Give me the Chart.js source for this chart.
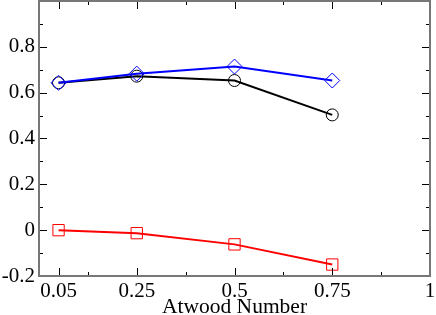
<!DOCTYPE html>
<html>
<head>
<meta charset="utf-8">
<script src="https://cdn.jsdelivr.net/npm/chart.js@4"></script>
<style>
html,body{margin:0;padding:0;background:#fff;}
canvas{display:block;}
</style>
</head>
<body>
<canvas id="c" width="436" height="315"></canvas>
<script>
const atwood = [0.05, 0.25, 0.5, 0.75];
const blueDiamonds = [0.643, 0.683, 0.714, 0.653];
const blackCircles = [0.643, 0.672, 0.653, 0.503];
const redSquares = [0.0, -0.013, -0.062, -0.150];
const xTickValues = [0.05, 0.25, 0.5, 0.75, 1];
const xTickLabels = ["0.05", "0.25", "0.5", "0.75", "1"];
const xMinorValues = [0.125, 0.375, 0.625, 0.875];
const yTickValues = [-0.2, 0, 0.2, 0.4, 0.6, 0.8];
const yTickLabels = ["-0.2", "0", "0.2", "0.4", "0.6", "0.8"];
const yMinorValues = [-0.1, 0.1, 0.3, 0.5, 0.7, 0.9];
const xTitle = "Atwood Number";

const pts = ys => atwood.map((x, i) => ({x: x, y: ys[i]}));
const FONT = "'Liberation Serif', 'Times New Roman', serif";

const framePlugin = {
  id: 'frame',
  afterDraw(chart) {
    const {ctx, chartArea: a, scales: {x, y}} = chart;
    ctx.save();
    ctx.strokeStyle = '#000';
    ctx.lineWidth = 1;
    const tick = (px, vertical, len) => {
      ctx.beginPath();
      if (vertical) {
        ctx.moveTo(px, a.bottom); ctx.lineTo(px, a.bottom - len);
        ctx.moveTo(px, a.top); ctx.lineTo(px, a.top + len);
      } else {
        ctx.moveTo(a.left, px); ctx.lineTo(a.left + len, px);
        ctx.moveTo(a.right, px); ctx.lineTo(a.right - len, px);
      }
      ctx.stroke();
    };
    xTickValues.forEach(v => tick(Math.round(x.getPixelForValue(v)) + 0.5, true, 8));
    xMinorValues.forEach(v => tick(Math.round(x.getPixelForValue(v)) + 0.5, true, 4));
    yTickValues.forEach(v => tick(Math.round(y.getPixelForValue(v)) + 0.5, false, 8));
    yMinorValues.forEach(v => tick(Math.round(y.getPixelForValue(v)) + 0.5, false, 4));
    ctx.strokeStyle = '#777';
    ctx.lineWidth = 2;
    ctx.strokeRect(a.left, a.top, a.right - a.left, a.bottom - a.top);
    ctx.restore();
  }
};

new Chart(document.getElementById('c'), {
  type: 'line',
  data: {
    datasets: [
      {data: pts(redSquares), borderColor: '#ff0000', borderWidth: 2, pointStyle: 'rect', pointRadius: 8, pointBorderWidth: 1, pointBorderColor: '#ff0000', pointBackgroundColor: 'rgba(0,0,0,0)', tension: 0, order: 3},
      {data: pts(blackCircles), borderColor: '#000000', borderWidth: 2, pointStyle: 'circle', pointRadius: 6, pointBorderWidth: 1, pointBorderColor: '#000000', pointBackgroundColor: 'rgba(0,0,0,0)', tension: 0, order: 2},
      {data: pts(blueDiamonds), borderColor: '#0000ff', borderWidth: 2, pointStyle: 'rectRot', pointRadius: 7.5, pointBorderWidth: 1, pointBorderColor: '#0000ff', pointBackgroundColor: 'rgba(0,0,0,0)', tension: 0, order: 1}
    ]
  },
  options: {
    responsive: false,
    animation: false,
    events: [],
    layout: {autoPadding: false, padding: {top: 1, right: 6, left: 0, bottom: 0}},
    plugins: {legend: {display: false}, tooltip: {enabled: false}},
    scales: {
      x: {
        type: 'linear', min: 0, max: 1,
        afterBuildTicks: s => { s.ticks = xTickValues.map(v => ({value: v})); },
        afterFit: s => { s.height = 39; s.paddingLeft = 0; s.paddingRight = 0; },
        grid: {display: false, drawTicks: false},
        border: {display: false},
        ticks: {
          autoSkip: false, maxRotation: 0, padding: 3,
          color: '#000', font: {family: FONT, size: 21},
          callback: (v, i) => xTickLabels[i]
        },
        title: {display: true, text: xTitle, color: '#000', font: {family: FONT, size: 21.5}, padding: {top: 0, bottom: -5}}
      },
      y: {
        type: 'linear', min: -0.2, max: 1,
        afterBuildTicks: s => { s.ticks = yTickValues.map(v => ({value: v})); },
        afterFit: s => { s.width = 39; s.paddingTop = 0; s.paddingBottom = 0; },
        grid: {display: false, drawTicks: false},
        border: {display: false},
        ticks: {
          autoSkip: false, padding: 4,
          color: '#000', font: {family: FONT, size: 21},
          callback: (v, i) => yTickLabels[i]
        }
      }
    }
  },
  plugins: [framePlugin]
});
</script>
</body>
</html>
